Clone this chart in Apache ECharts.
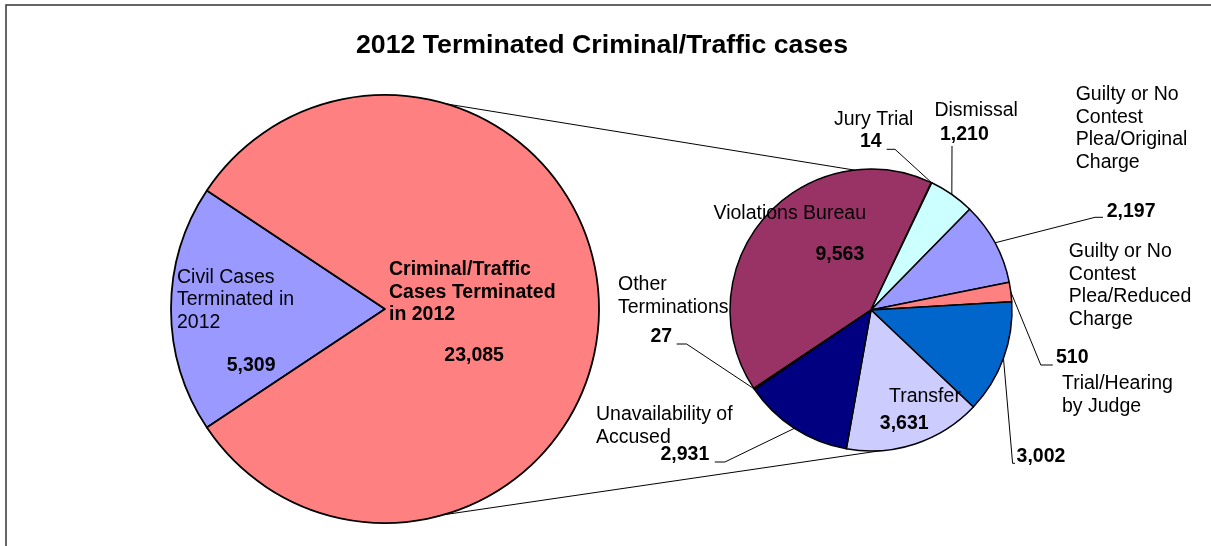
<!DOCTYPE html>
<html><head><meta charset="utf-8">
<script src="https://cdn.jsdelivr.net/npm/echarts@6/dist/echarts.min.js"></script>
<style>html,body{margin:0;padding:0;background:#fff}#c{width:1211px;height:546px}</style>
</head><body><div id="c"></div>
<script>
// ---------- data ----------
const chartTitle = '2012 Terminated Criminal/Traffic cases';
const mainCategories = ['Civil Cases\nTerminated in\n2012', 'Criminal/Traffic\nCases Terminated\nin 2012'];
const mainValues = [5309, 23085];
const detailCategories = ['Violations Bureau', 'Jury Trial', 'Dismissal',
  'Guilty or No\nContest\nPlea/Original\nCharge', 'Guilty or No\nContest\nPlea/Reduced\nCharge',
  'Trial/Hearing\nby Judge', 'Transfer', 'Unavailability of\nAccused', 'Other\nTerminations'];
const detailValues = [9563, 14, 1210, 2197, 510, 3002, 3631, 2931, 27];

// ---------- styles / layout ----------
const FONT = "'Liberation Sans', Arial, sans-serif";
const FS = 19.5, LH = 22.5, BASE = 18; // baseline offset from text top
const mainColors = ['#9999FF', '#FF8080'];
const detailColors = ['#993366', '#FFFFCC', '#CCFFFF', '#9999FF', '#FF8080', '#0066CC', '#CCCCFF', '#000080', '#FF00FF'];
const BIG = { cx: 385, cy: 309, r: 214, start: 213.66 };
const SMALL = { cx: 871, cy: 310, r: 141, start: 213.8 };
// label anchors: [left x, first baseline]
const mainNamePos = [[177, 284], [389, 276.7]];
const mainValuePos = [[226.7, 372], [444.3, 362.7]];
const detailNamePos = [[713.5, 220], [834, 126.7], [934.4, 117.3], [1075.7, 101.7], [1068.8, 258.5],
  [1062, 390.5], [889, 403.3], [596, 421.7], [618, 291.7]];
const detailValuePos = [[815.5, 261.7], [860, 148.3], [940, 141], [1106.7, 218.3], [1056, 364],
  [1016.6, 463.3], [879.8, 430.7], [660.5, 461.7], [650.4, 343.3]];
// leader line: [elbow, end] (null = no leader)
const detailLeaders = [null, [[895, 149.3], [886.7, 149.3]], [[952, 146], [952, 146]],
  [[1095, 217.3], [1103, 217.3]], [[1040.8, 365], [1052.8, 365]], [[1012.6, 463.3], [1015, 463.3]],
  null, [[724.9, 462], [714.8, 462]], [[686.6, 344], [676.6, 344]]];
const connector = { bigUpper: 73.5, bigLower: -74, smallLower: -86 };

// ---------- helpers ----------
const rad = a => a * Math.PI / 180;
const edge = (P, ang) => [P.cx + P.r * Math.cos(rad(ang)), P.cy - P.r * Math.sin(rad(ang))];
function midAngles(vals, start) {
  const sum = vals.reduce((a, b) => a + b, 0);
  let a = start; const mids = [], ends = [];
  vals.forEach(v => { const s = 360 * v / sum; mids.push(a - s / 2); a -= s; ends.push(a); });
  return { mids, ends };
}
const detailAng = midAngles(detailValues, SMALL.start);
const fmt = v => v.toLocaleString('en-US');

function layoutFn(posArr, leaders, P, ang) {
  return function (p) {
    const i = p.dataIndex, pos = posArr[i];
    const o = { x: pos[0], y: pos[1] - BASE, align: 'left', verticalAlign: 'top' };
    if (leaders && leaders[i]) {
      o.labelLinePoints = [edge(P, ang.mids[i]), leaders[i][0], leaders[i][1]];
    }
    return o;
  };
}

const baseLabel = { show: true, fontFamily: FONT, fontSize: FS, lineHeight: LH, color: '#000' };
const transparentItem = { color: 'rgba(0,0,0,0)', borderWidth: 0 };

const series = [
  { // big pie + names
    type: 'pie', center: [BIG.cx, BIG.cy], radius: [0, BIG.r], startAngle: BIG.start, clockwise: true,
    avoidLabelOverlap: false, silent: true, emphasis: { disabled: true },
    itemStyle: { borderColor: '#000', borderWidth: 1.8 },
    data: mainCategories.map((n, i) => ({ name: n, value: mainValues[i], itemStyle: { color: mainColors[i] },
      label: { fontWeight: i === 1 ? 'bold' : 'normal' } })),
    label: Object.assign({}, baseLabel, { position: 'inside', formatter: '{b}' }),
    labelLine: { show: false },
    labelLayout: layoutFn(mainNamePos, null, BIG, null)
  },
  { // big pie values
    type: 'pie', center: [BIG.cx, BIG.cy], radius: [0, BIG.r], startAngle: BIG.start, clockwise: true,
    avoidLabelOverlap: false, silent: true, emphasis: { disabled: true },
    itemStyle: transparentItem,
    data: mainCategories.map((n, i) => ({ name: n, value: mainValues[i] })),
    label: Object.assign({}, baseLabel, { position: 'inside', fontWeight: 'bold', formatter: p => fmt(p.value) }),
    labelLine: { show: false },
    labelLayout: layoutFn(mainValuePos, null, BIG, null)
  },
  { // small pie + names
    type: 'pie', center: [SMALL.cx, SMALL.cy], radius: [0, SMALL.r], startAngle: SMALL.start, clockwise: true,
    avoidLabelOverlap: false, silent: true, emphasis: { disabled: true },
    itemStyle: { borderColor: '#000', borderWidth: 1.5 },
    data: detailCategories.map((n, i) => ({ name: n, value: detailValues[i], itemStyle: { color: detailColors[i] } })),
    label: Object.assign({}, baseLabel, { position: 'inside', formatter: '{b}' }),
    labelLine: { show: false },
    labelLayout: layoutFn(detailNamePos, null, SMALL, detailAng)
  },
  { // small pie values + leaders
    type: 'pie', center: [SMALL.cx, SMALL.cy], radius: [0, SMALL.r], startAngle: SMALL.start, clockwise: true,
    avoidLabelOverlap: false, silent: true, emphasis: { disabled: true },
    itemStyle: transparentItem,
    data: detailCategories.map((n, i) => ({ name: n, value: detailValues[i],
      labelLine: { show: !!detailLeaders[i] } })),
    label: Object.assign({}, baseLabel, { position: 'outside', fontWeight: 'bold', formatter: p => fmt(p.value) }),
    labelLine: { show: true, length: 5, length2: 5, smooth: false, lineStyle: { color: '#000', width: 1 } },
    labelLayout: layoutFn(detailValuePos, detailLeaders, SMALL, detailAng)
  }
];

const up1 = edge(BIG, connector.bigUpper), lo1 = edge(BIG, connector.bigLower);
const up2 = edge(SMALL, detailAng.ends[0]), lo2 = edge(SMALL, connector.smallLower);

const chart = echarts.init(document.getElementById('c'), null, { renderer: 'canvas' });
chart.setOption({
  animation: false,
  backgroundColor: '#fff',
  graphic: [
    { type: 'rect', z: 0, shape: { x: 6, y: 5, width: 1300, height: 700 },
      style: { fill: 'none', stroke: '#333', lineWidth: 1.5 } },
    { type: 'text', z: 10, x: 602, y: 45.8,
      style: { text: chartTitle, font: "bold 26.7px 'Liberation Sans', Arial, sans-serif",
        fill: '#000', align: 'center', verticalAlign: 'middle' } },
    { type: 'line', z: 0, shape: { x1: up1[0], y1: up1[1], x2: up2[0], y2: up2[1] }, style: { stroke: '#000', lineWidth: 1 } },
    { type: 'line', z: 0, shape: { x1: lo1[0], y1: lo1[1], x2: lo2[0], y2: lo2[1] }, style: { stroke: '#000', lineWidth: 1 } }
  ],
  series: series
});
</script></body></html>
